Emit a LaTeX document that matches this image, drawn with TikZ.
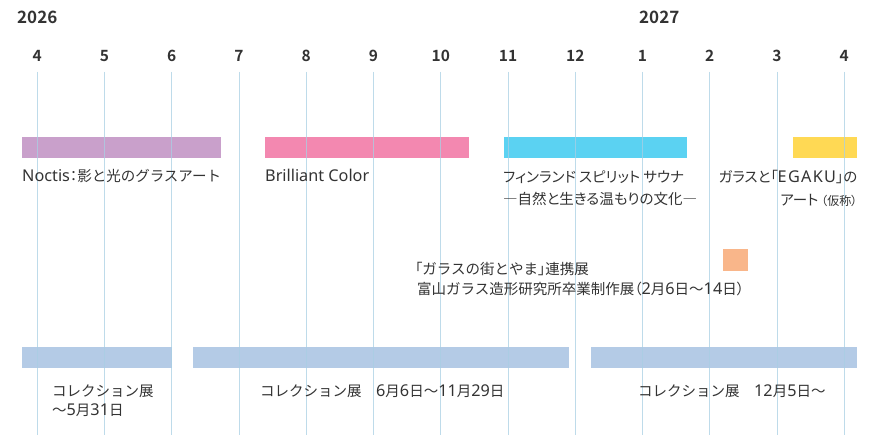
\documentclass[tikz,border=0pt]{standalone}
\usepackage{fontspec}
\setmainfont{Noto Sans CJK JP}[BoldFont={Noto Sans CJK JP Bold}]
\newfontfamily\pf{Noto Sans CJK JP}[RawFeature=+palt]
\newfontfamily\lat{Noto Sans}[Scale=1.12]
\newfontfamily\latsp{Noto Sans}[Scale=1.12,LetterSpace=8]
\definecolor{txt}{HTML}{333333}
\definecolor{grid}{HTML}{A9CFE4}
\definecolor{cpurple}{HTML}{C9A0CB}
\definecolor{cpink}{HTML}{F388B0}
\definecolor{ccyan}{HTML}{5BD2F2}
\definecolor{cyellow}{HTML}{FFD954}
\definecolor{corange}{HTML}{F9B68A}
\definecolor{cblue}{HTML}{B4CBE6}
\begin{document}
\begin{tikzpicture}[x=1pt,y=-1pt,
  lbl/.style={inner sep=0pt,text=txt,font=\fontsize{14.5}{23}\selectfont,anchor=base west,text height=10.5pt,text depth=2.5pt},
  rlbl/.style={lbl,anchor=base east},
  month/.style={inner sep=0pt,text=txt,font=\fontsize{15.5}{15.5}\selectfont\bfseries,anchor=base},
  year/.style={inner sep=0pt,text=txt,font=\fontsize{17}{17}\selectfont\bfseries,anchor=base west},
  gline/.style={draw=grid,line width=1.1pt,opacity=0.75}]
\useasboundingbox (0,0) rectangle (881,435);
\fill[white] (0,0) rectangle (881,435);
% bars
\fill[cpurple] (21.7,136.7) rectangle (221,157.7);
\fill[cpink] (265,136.7) rectangle (468.7,157.7);
\fill[ccyan] (504,136.7) rectangle (687,157.7);
\fill[cyellow] (792.7,136.7) rectangle (856.7,157.7);
\fill[corange] (722.7,249) rectangle (748,270.7);
\fill[cblue] (21.7,346.7) rectangle (172,367.7);
\fill[cblue] (192.7,346.7) rectangle (569.3,367.7);
\fill[cblue] (590.7,346.7) rectangle (857.3,367.7);
% grid lines and months
\foreach \m [count=\k from 0] in {4,5,6,7,8,9,10,11,12,1,2,3,4}{
  \draw[gline] ({37.3+67.25*\k},72) -- ({37.3+67.25*\k},435);
  \node[month] (m\k) at ({37.3+67.25*\k},62) {\m};
}
\node[year] (y1) at (17,24) {2026};
\node[year] (y2) at (639,24) {2027};
% labels
\node[lbl] (t1) at (22,182) {{\lat Noctis}{\pf ：}影と光のグラスアート};
\node[lbl] (t2) at (265,182) {{\lat Brilliant Color}};
\node[lbl] (t3a) at (503,183) {\pf フィンランド スピリット サウナ};
\node[lbl] (t3b) at (503,205) {\pf ―自然と生きる温もりの文化―};
\node[rlbl] (t4a) at (857.5,183) {\pf ガラスと「{\latsp EGAKU}」の};
\node[rlbl,font=\fontsize{12}{12}\selectfont\pf,text height=9pt,text depth=2pt] (t4c) at (857.5,206) {（仮称）};
\node[rlbl,font=\fontsize{14.5}{14.5}\selectfont\pf] (t4b) at ([xshift=-2.5pt]t4c.base west) {アート};
\node[lbl] (t5a) at (415,275) {{\pf 「}ガラスの街とやま{\pf 」}連携展};
\node[lbl] (t5b) at (417,295) {富山ガラス造形研究所卒業制作展{\pf （}{\lat 2}月{\lat 6}日〜{\lat 14}日{\pf ）}};
\node[lbl] (t6a) at (52,397) {コレクション展};
\node[lbl] (t6b) at (52,416) {〜{\lat 5}月{\lat 31}日};
\node[lbl] (t7) at (260,397) {コレクション展　{\lat 6}月{\lat 6}日〜{\lat 11}月{\lat 29}日};
\node[lbl] (t8) at (638,397) {コレクション展　{\lat 12}月{\lat 5}日〜};
\end{tikzpicture}
\end{document}
